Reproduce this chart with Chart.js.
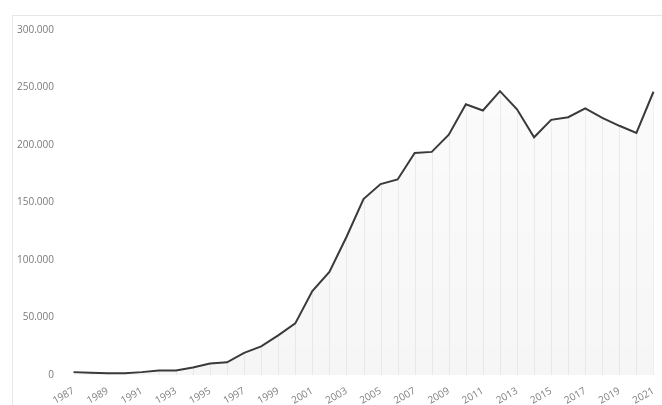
<!DOCTYPE html>
<html>
<head>
<meta charset="utf-8">
<script src="https://cdn.jsdelivr.net/npm/chart.js@4.4.1/dist/chart.umd.min.js"></script>
<style>
  html, body { margin: 0; padding: 0; background: #fff; }
  #wrap { position: relative; width: 662px; height: 405px; }
  #frame { position: absolute; left: 12px; top: 15px; right: 0; bottom: 0;
           border-left: 1px solid #e6e6e6; border-top: 1px solid #e6e6e6; }
  canvas { position: absolute; left: 0; top: 0; }
</style>
</head>
<body>
<div id="wrap">
  <div id="frame"></div>
  <canvas id="chart" width="662" height="405"></canvas>
</div>
<script>
// anos e valores
const years = [
  "1987", "1988", "1989", "1990", "1991", "1992", "1993", "1994", "1995", "1996",
  "1997", "1998", "1999", "2000", "2001", "2002", "2003", "2004", "2005", "2006",
  "2007", "2008", "2009", "2010", "2011", "2012", "2013", "2014", "2015", "2016",
  "2017", "2018", "2019", "2020", "2021"
];
const values = [
  2500, 2000, 1500, 1500, 2500, 4000, 4000, 6500, 10000, 11000,
  19200, 24900, 34400, 44900, 73000, 89600, 120000, 153000, 166000, 170000,
  193000, 194000, 209000, 235400, 230000, 246800, 231000, 206700, 221900, 224200,
  231900, 223500, 216700, 210500, 246300
];
const yTicks = [0, 50000, 100000, 150000, 200000, 250000, 300000];

function fmt(v) {
  return v.toLocaleString("de-DE");
}

// linhas verticais só abaixo da curva
const dropLines = {
  id: "dropLines",
  beforeDatasetsDraw(chart) {
    const ctx = chart.ctx;
    const meta = chart.getDatasetMeta(0);
    const bottom = chart.scales.y.bottom;
    ctx.save();
    ctx.strokeStyle = "rgba(0,0,0,0.06)";
    ctx.lineWidth = 1;
    meta.data.forEach((pt) => {
      const x = Math.round(pt.x) + 0.5;
      ctx.beginPath();
      ctx.moveTo(x, pt.y);
      ctx.lineTo(x, bottom);
      ctx.stroke();
    });
    ctx.restore();
  },
};

const ctx = document.getElementById("chart").getContext("2d");

new Chart(ctx, {
  type: "line",
  data: {
    labels: years,
    datasets: [
      {
        data: values,
        borderColor: "#3a3a3a",
        borderWidth: 2,
        pointRadius: 0,
        tension: 0,
        fill: "origin",
        backgroundColor: (c) => {
          const area = c.chart.chartArea;
          if (!area) return "rgba(0,0,0,0.02)";
          const g = c.chart.ctx.createLinearGradient(0, area.top, 0, area.bottom);
          g.addColorStop(0, "rgba(0,0,0,0.01)");
          g.addColorStop(1, "rgba(0,0,0,0.035)");
          return g;
        },
      },
    ],
  },
  options: {
    responsive: false,
    animation: false,
    layout: { padding: { top: 30, right: 0, left: 0, bottom: 0 } },
    plugins: { legend: { display: false }, tooltip: { enabled: false } },
    scales: {
      x: {
        offset: true,
        grid: { display: false },
        border: { display: false },
        ticks: {
          autoSkip: false,
          minRotation: 30,
          maxRotation: 30,
          padding: 2,
          color: "#808080",
          font: { family: "Open Sans", size: 10 },
          callback: function (val, i) {
            return i % 2 === 0 ? years[i] : "";
          },
        },
        afterFit(scale) {
          scale.height = 30;
          scale.paddingRight = 0;
        },
      },
      y: {
        min: 0,
        max: 300000,
        afterBuildTicks(scale) {
          scale.ticks = yTicks.map((v) => ({ value: v }));
        },
        grid: { display: false, drawTicks: false },
        border: { display: false },
        ticks: {
          padding: 11,
          color: "#7a7a7a",
          font: { family: "Open Sans", size: 10 },
          callback: (v) => fmt(v),
        },
        afterFit(scale) {
          scale.width = 65;
        },
      },
    },
  },
  plugins: [dropLines],
});
</script>
</body>
</html>
